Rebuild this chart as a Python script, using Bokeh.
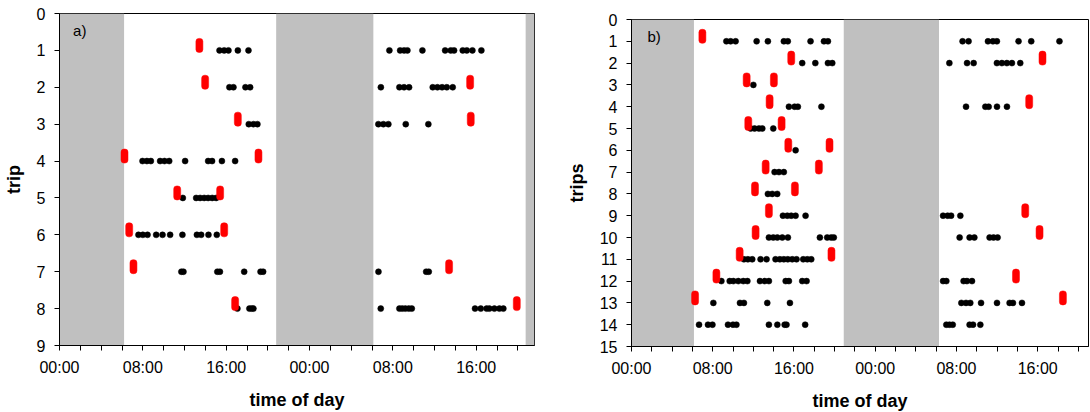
from bokeh.plotting import figure
from bokeh.models import Range1d, FixedTicker, BoxAnnotation, Label
from bokeh.layouts import row, column
from bokeh.embed import file_html
from bokeh.resources import INLINE

# ---------------- data ----------------
tick_hours = [0, 8, 16, 24, 32, 40]
tick_labels = ["00:00", "08:00", "16:00", "00:00", "08:00", "16:00"]
minor_hours = [2, 4, 6, 10, 12, 14, 18, 20, 22, 26, 28, 30, 34, 36, 38, 42, 44]

# night (grey) periods, hours since first midnight
a_night_start = [0.0, 20.8, 44.75]
a_night_end = [6.2, 30.13, 45.6]
b_night_start = [0.0, 20.9]
b_night_end = [6.15, 30.28]

# panel a: positions (hours) of black points per trip 1..8
a_dot_hours = [
    [15.36, 15.81, 16.22, 17.12, 18.14, 31.67, 32.70, 33.08, 33.40, 34.84, 37.02, 37.56, 37.88, 38.71, 39.10, 39.64, 40.50],
    [16.31, 16.70, 17.85, 18.30, 30.85, 32.63, 33.08, 33.56, 35.83, 36.28, 36.73, 37.18, 37.75],
    [18.17, 18.62, 19.0, 30.61, 31.09, 31.57, 33.24, 35.41],
    [7.97, 8.39, 8.77, 9.66, 10.08, 10.53, 12.06, 14.27, 14.65, 15.59, 16.86],
    [11.84, 13.12, 13.5, 13.89, 14.27, 14.66, 15.04],
    [7.58, 8.0, 8.45, 9.28, 9.89, 10.62, 11.80, 13.19, 13.6, 14.3, 15.1],
    [11.7, 11.9, 15.15, 15.4, 17.73, 19.3, 19.55, 30.62, 35.2, 35.45],
    [17.08, 18.23, 18.45, 18.62, 30.84, 32.63, 32.9, 33.2, 33.53, 33.82, 39.89, 40.44, 41.0, 41.27, 41.75, 42.23, 42.61],
]
# panel a: red markers (start / end) per trip
a_mark_hours = [
    [13.43], [13.98, 39.42], [17.12, 39.48], [6.24, 19.10],
    [11.30, 15.42], [6.69, 15.81], [7.1, 37.40], [16.86, 43.90],
]

# panel b: black points per trip 1..14
b_dot_hours = [
    [9.34, 9.76, 10.25, 12.32, 13.43, 15.0, 15.39, 17.63, 18.95, 19.34, 32.6, 33.19, 35.1, 35.59, 35.98, 38.11, 39.36, 42.14],
    [16.81, 18.1, 19.34, 19.77, 31.3, 33.04, 33.69, 35.98, 36.47, 36.96, 37.46, 38.28],
    [12.0],
    [15.5, 16.06, 16.38, 18.7, 32.94, 34.84, 35.17, 35.99, 36.97],
    [11.73, 12.12, 12.55, 12.88, 13.96],
    [16.16],
    [14.09, 14.52, 15.0],
    [13.43, 13.86, 14.35],
    [14.91, 15.34, 15.73, 16.16, 17.14, 30.68, 31.13, 31.47, 32.38],
    [13.53, 13.96, 14.36, 14.85, 15.40, 18.55, 19.27, 19.66, 19.92, 32.31, 33.29, 33.76, 35.26, 35.65, 36.05],
    [11.07, 11.46, 11.89, 12.71, 13.30, 14.18, 14.61, 15.0, 15.39, 15.83, 16.25, 16.91, 17.31, 17.70],
    [8.85, 9.67, 10.03, 10.52, 11.01, 11.41, 12.65, 13.11, 13.53, 15.18, 15.50, 16.81, 17.24, 30.68, 31.0, 32.7, 33.03, 33.53],
    [8.06, 10.68, 11.07, 13.37, 15.60, 32.48, 32.94, 33.36, 34.42, 35.99, 37.23, 37.56, 38.45],
    [6.65, 7.53, 7.97, 9.50, 9.99, 10.33, 13.53, 14.36, 15.08, 15.26, 17.1, 31.0, 31.31, 31.63, 33.29, 33.63, 34.35],
]
b_mark_hours = [
    [6.98], [15.73, 40.47], [11.34, 14.02], [13.60, 39.16], [11.5, 14.78],
    [15.44, 19.5], [13.21, 18.45], [12.16, 16.09], [13.53, 38.77], [12.22, 40.18],
    [10.65, 19.69], [8.36, 37.86], [6.26, 42.48], [],
]

FONT = "Liberation Sans"


def flatten(rows):
    xs, ys = [], []
    for i, r in enumerate(rows):
        for h in r:
            xs.append(h)
            ys.append(i + 1)
    return xs, ys


def make_panel(dots, marks, nights_s, nights_e, n_trips, x_end, ylabel, tag,
               frame_w, frame_h, bl, bt, br, bb, tag_x, tag_y):
    p = figure(frame_width=frame_w, frame_height=frame_h, title=None,
               min_border_left=bl, min_border_top=bt, min_border_right=br, min_border_bottom=bb,
               x_range=Range1d(0, x_end), y_range=Range1d(n_trips, 0),
               output_backend="svg", toolbar_location=None)
    p.xgrid.visible = False
    p.ygrid.visible = False
    p.outline_line_color = "black"
    p.outline_line_width = 1
    p.background_fill_color = "white"
    p.border_fill_color = "white"

    for s, e in zip(nights_s, nights_e):
        p.add_layout(BoxAnnotation(left=s, right=e, fill_color="#c0c0c0", fill_alpha=1.0,
                                   line_alpha=0, level="underlay"))

    dx, dy = flatten(dots)
    p.scatter(dx, dy, size=6, marker="circle", fill_color="black", line_color="black", line_width=0.5)

    mx, my = flatten(marks)
    px_per_unit = frame_h / n_trips
    offset = 5.0 / px_per_unit
    my = [y - offset for y in my]
    p.rect(mx, my, width=7, height=14, width_units="screen", height_units="screen",
           fill_color="#ff0000", line_color="#ff0000", line_width=0.5, border_radius=3)

    p.xaxis.ticker = FixedTicker(ticks=tick_hours, minor_ticks=minor_hours)
    p.xaxis.major_label_overrides = {h: l for h, l in zip(tick_hours, tick_labels)}
    p.yaxis.ticker = FixedTicker(ticks=list(range(0, n_trips + 1)), minor_ticks=[])
    for ax in (p.xaxis, p.yaxis):
        ax.axis_line_color = "black"
        ax.major_tick_line_color = "black"
        ax.minor_tick_line_color = "black"
        ax.major_tick_in = 0
        ax.major_tick_out = 5
        ax.minor_tick_in = 0
        ax.minor_tick_out = 5
        ax.major_label_text_font = FONT
        ax.major_label_text_font_size = "16px"
        ax.major_label_text_color = "black"
        ax.axis_label_text_font = FONT
        ax.axis_label_text_font_size = "18px"
        ax.axis_label_text_font_style = "bold"
        ax.axis_label_text_color = "black"
    p.xaxis.major_label_standoff = 8
    p.yaxis.major_label_standoff = 9
    p.xaxis.axis_label = "time of day"
    p.yaxis.axis_label = ylabel
    p.xaxis.axis_label_standoff = 11
    p.yaxis.axis_label_standoff = 10

    p.add_layout(Label(x=tag_x, y=tag_y, text=tag, text_font=FONT, text_font_size="15px",
                       text_baseline="middle", text_align="left", text_color="black"))
    return p


p1 = make_panel(a_dot_hours, a_mark_hours, a_night_start, a_night_end, 9, 45.6, "trip", "a)",
                475, 332, 59, 13, 11, 67, 1.3, 0.45)
p2 = make_panel(b_dot_hours, b_mark_hours, b_night_start, b_night_end, 15, 45.0, "trips", "b)",
                457, 327, 86, 19, 2, 66, 1.57, 0.8)

layout = row(column(p1), column(p2))
open("out.html", "w").write(file_html(layout, INLINE))
